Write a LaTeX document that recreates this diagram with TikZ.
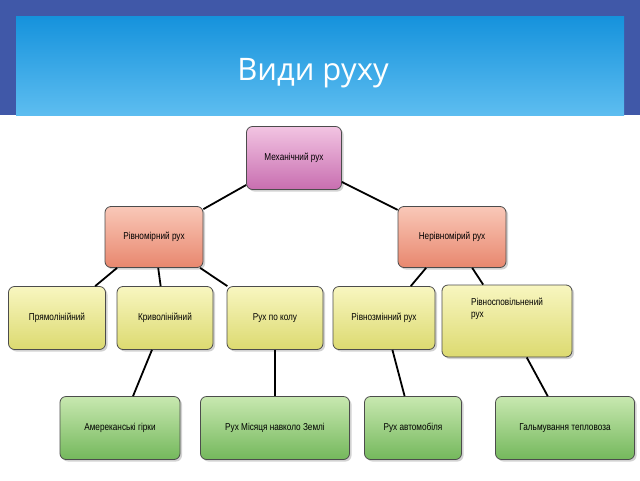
\documentclass[tikz,border=0pt]{standalone}
\usepackage{fontspec}
\setmainfont{Liberation Sans}
\newfontfamily\titlefont{Open Sans}
\usetikzlibrary{positioning, shadows}
\definecolor{frameblue}{HTML}{4058A8}
\definecolor{headtop}{HTML}{1592DC}
\definecolor{headbot}{HTML}{5DBDF0}
\definecolor{pinktop}{HTML}{F2C4E2}
\definecolor{pinkbot}{HTML}{C86EB0}
\definecolor{salmtop}{HTML}{F9C8B8}
\definecolor{salmbot}{HTML}{E8876E}
\definecolor{yeltop}{HTML}{F8F6C0}
\definecolor{yelbot}{HTML}{DCDA70}
\definecolor{gretop}{HTML}{C8E8B0}
\definecolor{grebot}{HTML}{74B85C}

\begin{document}
\begin{tikzpicture}[
        x=1pt, y=-1pt,
        box/.style={rectangle, rounded corners=6pt, draw=black!70, thick, align=center,
            minimum height=63pt, font=\fontsize{10}{12}\selectfont\addfontfeatures{FakeStretch=0.82},
            drop shadow={opacity=0.35, shadow xshift=2pt, shadow yshift=-2pt}},
        mech/.style={box, top color=pinktop, bottom color=pinkbot},
        even/.style={box, top color=salmtop, bottom color=salmbot},
        kind/.style={box, top color=yeltop, bottom color=yelbot},
        example/.style={box, top color=gretop, bottom color=grebot},
        link/.style={line width=1.8pt, black}
    ]
    % background and header
    \fill[frameblue] (0,0) rectangle (640,480);
    \fill[white] (0,115) rectangle (640,480);
    \fill[top color=headtop, bottom color=headbot] (16,16) rectangle (624,115);
    \node[text=white, font=\titlefont\fontsize{31}{34}\selectfont] (title) at (313,73) {Види руху};

    % Top level
    \node[mech, minimum width=95pt] (mech) at (294,158) {Механічний рух};

    % Second level
    \node[even, minimum width=98pt, minimum height=61pt] (even) at (154,237) {Рівномірний рух};
    \node[even, minimum width=108pt, minimum height=61pt] (uneven) at (452,237) {Нерівномірий рух};

    % Third level
    \node[kind, minimum width=97pt] (straight) at (57,318) {Прямолінійний};
    \node[kind, minimum width=96pt] (curve) at (165,318) {Криволінійний};
    \node[kind, minimum width=96pt] (circle) at (275,318) {Рух по колу};
    \node[kind, minimum width=102pt] (accel) at (384,318) {Рівнозмінний рух};
    \node[kind, minimum width=130pt, minimum height=72pt, align=left] (decel) at (507,321) {Рівносповільнений\\рух\\[14pt]};

    % Examples
    \node[example, minimum width=120pt] (hills) at (120,428) {Амереканські гірки};
    \node[example, minimum width=149pt] (moon) at (275,428) {Рух Місяця навколо Землі};
    \node[example, minimum width=97pt] (car) at (413,428) {Рух автомобіля};
    \node[example, minimum width=139pt] (brake) at (565,428) {Гальмування тепловоза};

    % Links
    \draw[link] (mech) -- (even);
    \draw[link] (mech) -- (uneven);
    \draw[link] (even) -- (straight);
    \draw[link] (even) -- (curve);
    \draw[link] (even) -- (circle);
    \draw[link] (uneven) -- (accel);
    \draw[link] (uneven) -- (decel);
    \draw[link] (curve) -- (hills);
    \draw[link] (circle) -- (moon);
    \draw[link] (accel) -- (car);
    \draw[link] (decel) -- (brake);
\end{tikzpicture}
\end{document}
